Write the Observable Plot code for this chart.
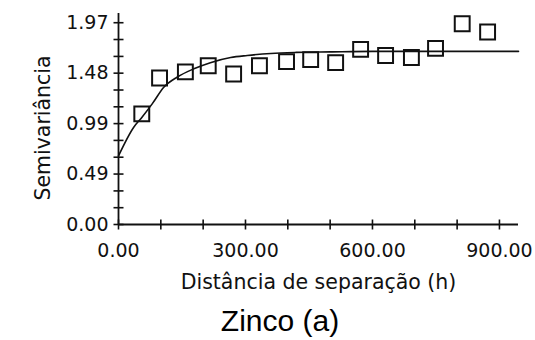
<!DOCTYPE html>
<html>
<head>
<meta charset="utf-8">
<script src="https://cdn.jsdelivr.net/npm/d3@7"></script>
<script src="https://cdn.jsdelivr.net/npm/@observablehq/plot@0.6"></script>
<style>
  html, body { margin: 0; padding: 0; background: #fff; }
  #chart svg { display: block; }
  #caption {
    font-family: "Liberation Sans", Arial, sans-serif;
    font-size: 30px;
    line-height: 34px;
    color: #000;
    text-align: center;
    width: 535px;
    padding-left: 25px;
    box-sizing: border-box;
    margin-top: 4px;
  }
</style>
</head>
<body>
<div id="chart"></div>
<div id="caption">Zinco (a)</div>
<script>
// Experimental semivariogram: lag distance (h) and semivariance
const lagDistance = [55, 97, 158, 212, 272, 333, 397, 454, 513, 572, 631, 692, 749, 812, 872];
const semivariance = [1.08, 1.43, 1.49, 1.55, 1.47, 1.55, 1.59, 1.61, 1.58, 1.71, 1.65, 1.63, 1.72, 1.96, 1.88];

// Fitted model curve, sampled along h
const modelDistance = [0, 36, 56, 80, 107, 139, 178, 217, 265, 304, 360, 420, 500, 600, 700, 800, 945];
const modelSemivariance = [0.67, 0.95, 1.05, 1.18, 1.34, 1.44, 1.52, 1.58, 1.63, 1.65, 1.67, 1.68, 1.685, 1.69, 1.69, 1.69, 1.69];

// Axis ticks
const xMinorTicks = [0, 100, 200, 300, 400, 500, 600, 700, 800, 900];
const xTickValues = [0, 300, 600, 900];
const xTickLabels = ["0.00", "300.00", "600.00", "900.00"];
const yMinorTicks = [0, 0.164, 0.328, 0.4925, 0.657, 0.821, 0.985, 1.149, 1.313, 1.4775, 1.641, 1.806, 1.97];
const yTickValues = [0, 0.4925, 0.985, 1.4775, 1.97];
const yTickLabels = ["0.00", "0.49", "0.99", "1.48", "1.97"];

const xTitle = "Distância de separação (h)";
const yTitle = "Semivariância";

const points = lagDistance.map((h, i) => ({h, g: semivariance[i]}));
const model = modelDistance.map((h, i) => ({h, g: modelSemivariance[i]}));
const xLabels = xTickValues.map((v, i) => ({v, label: xTickLabels[i]}));
const yLabels = yTickValues.map((v, i) => ({v, label: yTickLabels[i]}));

// tick marks that cross the axis line
const hTick = {draw(ctx, size) { const r = Math.sqrt(size / Math.PI); ctx.moveTo(-r, 0); ctx.lineTo(r, 0); }};
const vTick = {draw(ctx, size) { const r = Math.sqrt(size / Math.PI); ctx.moveTo(0, -r); ctx.lineTo(0, r); }};

const ink = "#111";
const font = "DejaVu Sans, Verdana, sans-serif";

const chart = Plot.plot({
  width: 535,
  height: 300,
  marginTop: 13,
  marginBottom: 76,
  marginLeft: 118,
  marginRight: 17,
  style: {fontFamily: font, background: "#fff"},
  x: {domain: [0, 945], axis: null},
  y: {domain: [0, 2.06], axis: null},
  marks: [
    Plot.ruleX([0], {stroke: ink, strokeWidth: 1.8}),
    Plot.ruleY([0], {stroke: ink, strokeWidth: 1.8}),
    Plot.dot(yMinorTicks, {x: 0, y: d => d, symbol: hTick, r: 5, stroke: ink, strokeWidth: 1.6}),
    Plot.dot(xMinorTicks, {x: d => d, y: 0, symbol: vTick, r: 5, stroke: ink, strokeWidth: 1.6}),
    Plot.text(yLabels, {x: 0, y: "v", text: "label", textAnchor: "end", lineAnchor: "middle", dx: -10, fontSize: 19, fill: ink}),
    Plot.text(xLabels, {x: "v", y: 0, text: "label", textAnchor: "middle", lineAnchor: "middle", dy: 26, fontSize: 19, fill: ink}),
    Plot.text([xTitle], {frameAnchor: "bottom", text: d => d, textAnchor: "middle", lineAnchor: "middle", dy: 58, fontSize: 20.5, fill: ink}),
    Plot.text([yTitle], {frameAnchor: "left", text: d => d, rotate: -90, textAnchor: "middle", lineAnchor: "middle", dx: -75, dy: 9, fontSize: 20.5, fill: ink}),
    Plot.line(model, {x: "h", y: "g", curve: "monotone-x", stroke: ink, strokeWidth: 1.6}),
    Plot.dot(points, {x: "h", y: "g", symbol: "square", r: 8.4, stroke: ink, strokeWidth: 2, fill: "none"})
  ]
});
document.getElementById("chart").append(chart);
</script>
</body>
</html>
